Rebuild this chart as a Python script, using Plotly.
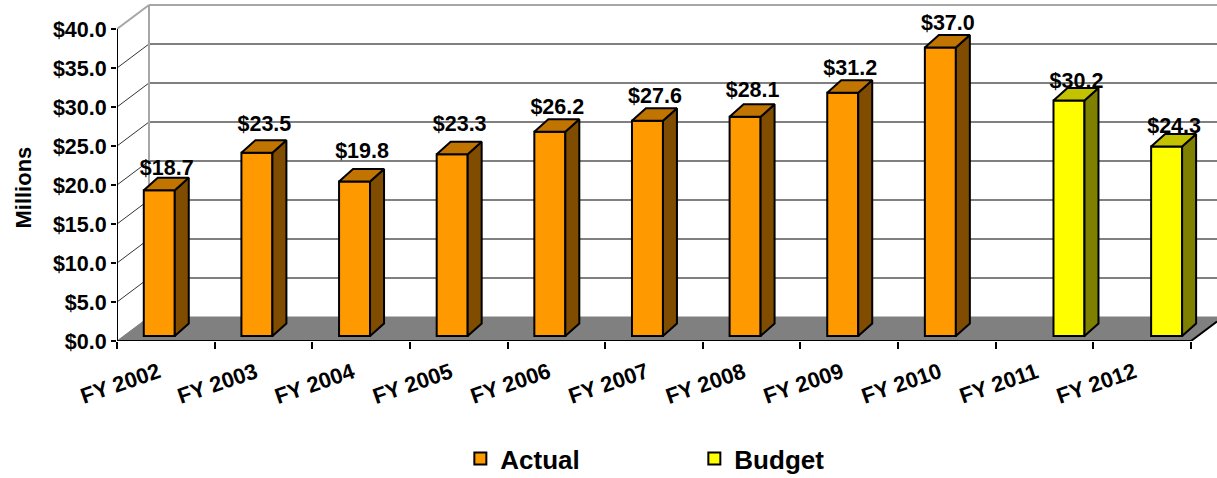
import plotly.graph_objects as go

# ---- data ----
categories = ["FY 2002", "FY 2003", "FY 2004", "FY 2005", "FY 2006", "FY 2007",
              "FY 2008", "FY 2009", "FY 2010", "FY 2011", "FY 2012"]
actual = [18.7, 23.5, 19.8, 23.3, 26.2, 27.6, 28.1, 31.2, 37.0, None, None]
budget = [None, None, None, None, None, None, None, None, None, 30.2, 24.3]
y_ticks = [0, 5, 10, 15, 20, 25, 30, 35, 40]
y_tick_labels = ["$0.0", "$5.0", "$10.0", "$15.0", "$20.0", "$25.0", "$30.0", "$35.0", "$40.0"]
# small per-label vertical nudges (pixels above the default label height)
actual_label_nudge = [-2, 4, 6, 6, 0, 0, 2, 0, 0]
budget_label_nudge = [-5, -4]

# ---- geometry ----
W, H = 1217, 478
LEFT, BOTTOM, TOP = 116.5, 341.0, 2.0
PX_CAT = 97.68
PX_VAL = 7.8
FONT = "Liberation Sans"
WALL_DX, WALL_DY = 32 / PX_CAT, 24 / PX_VAL
BAR_DX, BAR_DY = 14 / PX_CAT, 12.5 / PX_VAL
BAR_BASE = 5 / PX_VAL
BAR_W = 31.0 / PX_CAT
A_LEFT, B_LEFT = 26.8 / PX_CAT, 26.8 / PX_CAT + BAR_W
X_MAX = (W - LEFT) / PX_CAT
Y_MAX = (BOTTOM - TOP) / PX_VAL
PLOT_H = BOTTOM - TOP
PLOT_W = W - LEFT
N = len(categories)
FLOOR_END = (W - LEFT - N * PX_CAT) * 24 / 32 / PX_VAL

shapes = []
# floor
floor = f"M 0 0 L {WALL_DX} {WALL_DY} L {X_MAX} {WALL_DY} L {X_MAX} {FLOOR_END} L {N} 0 Z"
shapes.append(dict(type="path", path=floor, xref="x", yref="y", layer="below",
                   fillcolor="#808080", line=dict(color="#808080", width=1)))
# back wall gridlines and side-wall diagonals
for v in y_ticks[1:]:
    top = v == y_ticks[-1]
    shapes.append(dict(type="line", xref="x", yref="y", layer="below",
                       x0=WALL_DX, x1=X_MAX, y0=v + WALL_DY, y1=v + WALL_DY,
                       line=dict(color="#A6A6A6" if top else "#808080", width=2)))
    shapes.append(dict(type="line", xref="x", yref="y", layer="below",
                       x0=0, x1=WALL_DX, y0=v, y1=v + WALL_DY,
                       line=dict(color="#A6A6A6" if top else "#333333", width=2 if top else 1)))
shapes.append(dict(type="line", xref="x", yref="y", layer="below",
                   x0=WALL_DX, x1=WALL_DX, y0=WALL_DY, y1=y_ticks[-1] + WALL_DY,
                   line=dict(color="#A6A6A6", width=2)))

fig = go.Figure()

def add_series(name, values, left, face, top_c, side_c, nudges):
    idx = [i for i, v in enumerate(values) if v is not None]
    fig.add_trace(go.Bar(name=name, x=[i + left + BAR_W / 2 for i in range(N)], y=values,
                         base=BAR_BASE, width=BAR_W,
                         marker=dict(color=face, line=dict(color="black", width=2)),
                         hoverinfo="skip"))
    sx, sy, tx, ty = [], [], [], []
    for i in idx:
        L = i + left
        R = L + BAR_W
        t = BAR_BASE + values[i]
        sx += [R, R + BAR_DX, R + BAR_DX, R, R, None]
        sy += [BAR_BASE, BAR_BASE + BAR_DY, t + BAR_DY, t, BAR_BASE, None]
        tx += [L, L + BAR_DX, R + BAR_DX, R, L, None]
        ty += [t, t + BAR_DY, t + BAR_DY, t, t, None]
    for xs, ys, c in ((sx, sy, side_c), (tx, ty, top_c)):
        fig.add_trace(go.Scatter(x=xs, y=ys, mode="lines", fill="toself", fillcolor=c,
                                 line=dict(color="black", width=2), showlegend=False,
                                 hoverinfo="skip"))
    fig.add_trace(go.Scatter(
        x=[i + left + BAR_W / 2 + 7.5 / PX_CAT for i in idx],
        y=[BAR_BASE + values[i] + (23 + nudges[k]) / PX_VAL for k, i in enumerate(idx)],
        text=[f"${values[i]:.1f}" for i in idx], mode="text", textposition="middle center",
        textfont=dict(family=FONT, size=21.5, color="#000000", weight=700),
        showlegend=False, hoverinfo="skip", cliponaxis=False))

add_series("Actual", actual, A_LEFT, "#FF9900", "#C27400", "#7F4C00", actual_label_nudge)
add_series("Budget", budget, B_LEFT, "#FFFF00", "#C2C200", "#808000", budget_label_nudge)

# axis lines (stop at the last tick, unlike the plot frame)
fig.add_trace(go.Scatter(x=[0, 0], y=[0, y_ticks[-1]], mode="lines", cliponaxis=False,
                         line=dict(color="black", width=2), showlegend=False, hoverinfo="skip"))
fig.add_trace(go.Scatter(x=[0, N, X_MAX], y=[0, 0, FLOOR_END],
                         mode="lines", cliponaxis=False,
                         line=dict(color="black", width=2), showlegend=False, hoverinfo="skip"))

annotations = [dict(x=i + 3 / PX_CAT, y=-(383 - BOTTOM) / PLOT_H, xref="x", yref="paper",
                    xanchor="center", yanchor="middle",
                    text=c, showarrow=False, textangle=-19,
                    font=dict(family=FONT, size=22, color="#000000", weight=700))
               for i, c in enumerate(categories)]
annotations.append(dict(x=(22 - LEFT) / PLOT_W, y=(BOTTOM - 188) / PLOT_H, xref="paper", yref="paper",
                        xanchor="center", yanchor="middle",
                        text="Millions", showarrow=False, textangle=-90,
                        font=dict(family=FONT, size=22, color="#000000", weight=700)))

fig.update_layout(
    width=W, height=H, autosize=False,
    margin=dict(l=LEFT, r=0, t=TOP, b=H - BOTTOM, pad=0, autoexpand=False),
    paper_bgcolor="white", plot_bgcolor="white", barmode="overlay",
    shapes=shapes, annotations=annotations,
    showlegend=True,
    legend=dict(orientation="h", x=(460 - LEFT) / PLOT_W, y=-(435 - BOTTOM) / PLOT_H,
                xanchor="left", yanchor="top", entrywidth=189, entrywidthmode="pixels",
                font=dict(family=FONT, size=26, color="#000000", weight=700),
                bgcolor="rgba(0,0,0,0)"),
    xaxis=dict(range=[0, X_MAX], tickmode="array", tickvals=list(range(N + 1)),
               ticktext=[""] * (N + 1), ticks="outside", ticklen=7, tickwidth=2,
               tickcolor="black", showgrid=False, zeroline=False, showline=False, automargin=False),
    yaxis=dict(range=[0, Y_MAX], tickmode="array", tickvals=y_ticks, ticktext=y_tick_labels,
               ticks="outside", ticklen=5, tickwidth=2, tickcolor="black", showgrid=False,
               zeroline=False, showline=False, automargin=False,
               tickfont=dict(family=FONT, size=21.5, color="#000000", weight=700)),
)

fig.write_html("out.html", config={"displayModeBar": False},
               post_script="document.body.style.margin='0';")
